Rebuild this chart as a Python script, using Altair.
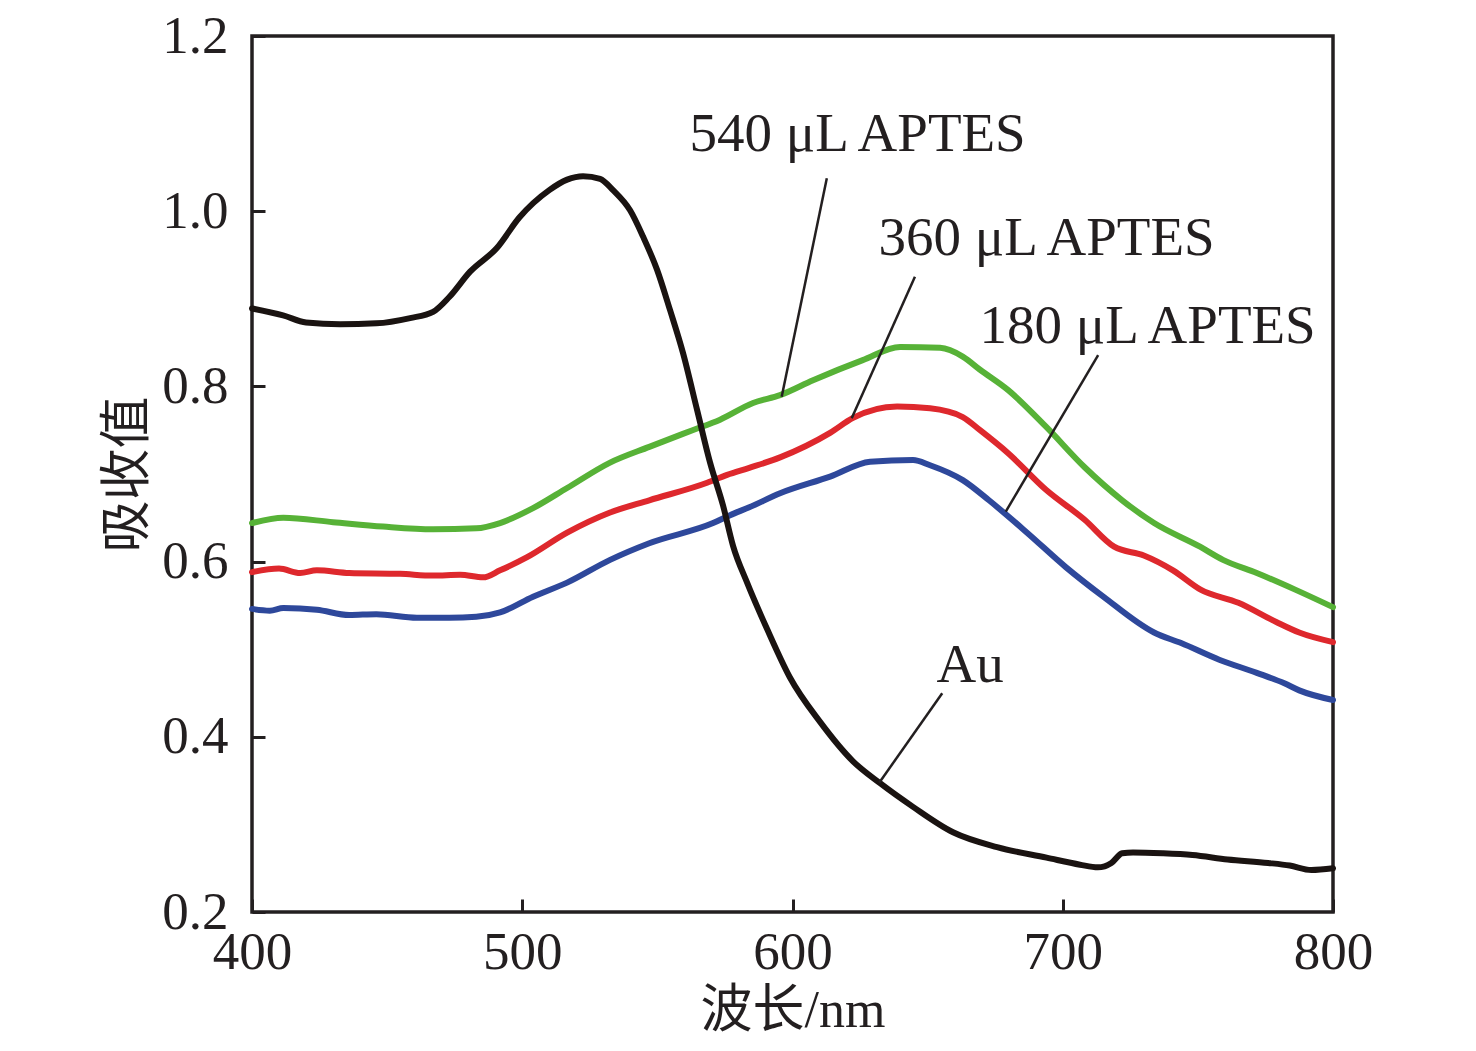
import altair as alt
import pandas as pd

# ---- data ----
au_x = [400, 411.5, 420, 432.6, 446, 458.5, 467, 473, 480.7, 490.6, 499, 510, 516.6, 522.5, 528.8,
        533.6, 539.9, 544.7, 549.9, 554.7, 559.5, 564.7, 569.5, 574.3, 578, 583.2, 590.6, 599,
        610.2, 622.4, 632.4, 644.6, 659.4, 675.7, 694, 706.4, 713, 718, 722, 726, 737, 748, 761,
        776, 784, 792, 800]
au_y = [0.889, 0.881, 0.873, 0.871, 0.872, 0.878, 0.885, 0.902, 0.931, 0.958, 0.993, 1.024, 1.036,
        1.040, 1.037, 1.024, 1.001, 0.971, 0.933, 0.887, 0.838, 0.773, 0.713, 0.664, 0.618, 0.576,
        0.523, 0.468, 0.417, 0.372, 0.347, 0.320, 0.291, 0.274, 0.262, 0.254, 0.251, 0.256, 0.267,
        0.268, 0.267, 0.265, 0.260, 0.256, 0.253, 0.248, 0.250]

g540_x = [400, 411.6, 430, 448.5, 467, 483, 491.8, 504, 516.6, 532.5, 547, 563, 573.2, 585.4, 595.4,
          607.6, 626, 639.8, 654.6, 663, 669.4, 679.7, 693.8, 708, 722, 733.8, 750.8, 759.3, 771.8,
          786, 800]
g540_y = [0.644, 0.650, 0.645, 0.640, 0.637, 0.638, 0.644, 0.661, 0.684, 0.713, 0.731, 0.750, 0.762,
          0.781, 0.790, 0.807, 0.830, 0.845, 0.844, 0.834, 0.819, 0.796, 0.754, 0.708, 0.670, 0.644,
          0.617, 0.602, 0.587, 0.568, 0.548]

r360_x = [400, 410, 417.8, 424, 436, 454.8, 467, 477, 485.5, 491.8, 501.8, 516.6, 532.5, 547, 568.4,
          575.8, 584, 595.4, 613.9, 622.4, 638.7, 650.9, 663, 669.4, 679.7, 693.8, 708, 719, 730,
          740.8, 751, 765, 779, 787.5, 800]
r360_y = [0.588, 0.592, 0.587, 0.590, 0.587, 0.586, 0.584, 0.585, 0.582, 0.590, 0.605, 0.633, 0.656,
          0.670, 0.690, 0.699, 0.707, 0.719, 0.747, 0.764, 0.777, 0.775, 0.765, 0.750, 0.724, 0.682,
          0.648, 0.617, 0.607, 0.590, 0.568, 0.553, 0.531, 0.519, 0.508]

b180_x = [400, 406.6, 411.6, 424, 436, 446, 461, 473, 483, 491.8, 504, 516.6, 532.5, 547, 570.6,
          576.9, 584, 595.4, 613.9, 628.7, 644.6, 650.9, 663, 672.7, 686.8, 701, 715, 733.8, 743.8,
          757.9, 771.8, 782, 787.5, 800]
b180_y = [0.546, 0.544, 0.547, 0.545, 0.539, 0.540, 0.536, 0.536, 0.537, 0.542, 0.560, 0.576, 0.602,
          0.621, 0.644, 0.653, 0.662, 0.678, 0.697, 0.714, 0.716, 0.710, 0.693, 0.670, 0.633, 0.594,
          0.560, 0.519, 0.507, 0.488, 0.473, 0.461, 0.453, 0.442]

label_text = ["540 \u03bcL APTES", "360 \u03bcL APTES", "180 \u03bcL APTES", "Au"]
label_x = [624.1, 694.0, 731.4, 665.7]
label_y = [1.0687, 0.950, 0.8495, 0.463]
leader_x1 = [612.7, 645.3, 713.1, 655.4]
leader_y1 = [1.0376, 0.9252, 0.8358, 0.4497]
leader_x2 = [596.0, 621.9, 678.9, 632.1]
leader_y2 = [0.7882, 0.7636, 0.6570, 0.3476]

x_ticks = [400, 500, 600, 700, 800]
y_ticks = [0.2, 0.4, 0.6, 0.8, 1.0, 1.2]

series = [
    (g540_x, g540_y, "#57b237"),
    (r360_x, r360_y, "#de282d"),
    (b180_x, b180_y, "#2e489b"),
    (au_x, au_y, "#1a1311"),
]

SERIF = "Liberation Serif"
CJK = "Liberation Serif, Noto Sans CJK SC"
INK = "#231f20"

xscale = alt.Scale(domain=[400, 800], nice=False, zero=False)
yscale = alt.Scale(domain=[0.2, 1.2], nice=False, zero=False)

x_axis = alt.Axis(values=x_ticks, format="d", title="\u6ce2\u957f/nm", grid=False, domain=False,
                  tickSize=13, offset=-13, tickWidth=3, tickColor=INK,
                  labelFont=SERIF, labelFontSize=53, labelColor=INK, labelPadding=14,
                  labelFlush=False, labelOverlap=False,
                  titleFont=CJK, titleFontSize=52, titleColor=INK, titleFontWeight="normal",
                  titleX=540.5, titleY=111, titleBaseline="middle")
y_axis = alt.Axis(values=y_ticks, format=".1f", title="\u5438\u6536\u503c", grid=False, domain=False,
                  tickSize=13, offset=-13, tickWidth=3, tickColor=INK,
                  labelFont=SERIF, labelFontSize=53, labelColor=INK, labelPadding=24,
                  labelFlush=False, labelOverlap=False, labelBaseline="middle",
                  titleFont=CJK, titleFontSize=52, titleColor=INK, titleFontWeight="normal",
                  titleX=-138, titleY=438, titleAngle=270, titleBaseline="middle")

X = lambda f: alt.X(f, scale=xscale, axis=x_axis)
Y = lambda f: alt.Y(f, scale=yscale, axis=y_axis)

layers = []
for xs, ys, col in series:
    df = pd.DataFrame({"wl": xs, "abs": ys})
    layers.append(
        alt.Chart(df).mark_line(color=col, strokeWidth=6, interpolate="monotone",
                                strokeCap="round", strokeJoin="round")
        .encode(x=X("wl:Q"), y=Y("abs:Q"))
    )

lead_df = pd.DataFrame({"wl": leader_x1, "abs": leader_y1, "x2": leader_x2, "y2": leader_y2})
leaders = alt.Chart(lead_df).mark_rule(color=INK, strokeWidth=2.5).encode(
    x=X("wl:Q"), y=Y("abs:Q"), x2="x2:Q", y2="y2:Q")

lab_df = pd.DataFrame({"t": label_text, "wl": label_x, "abs": label_y})
labels = alt.Chart(lab_df).mark_text(font=SERIF, fontSize=55, color=INK, align="center",
                                     baseline="alphabetic").encode(
    x=X("wl:Q"), y=Y("abs:Q"), text="t:N")

chart = alt.layer(*layers, leaders, labels).properties(
    width=1081, height=876,
    autosize=alt.AutoSizeParams(type="none"),
    padding={"left": 244, "top": 28, "right": 130, "bottom": 131},
    background="white",
).configure_view(stroke=INK, strokeWidth=3.5)

chart.save("out.html", embed_options={"renderer": "svg", "actions": False})
